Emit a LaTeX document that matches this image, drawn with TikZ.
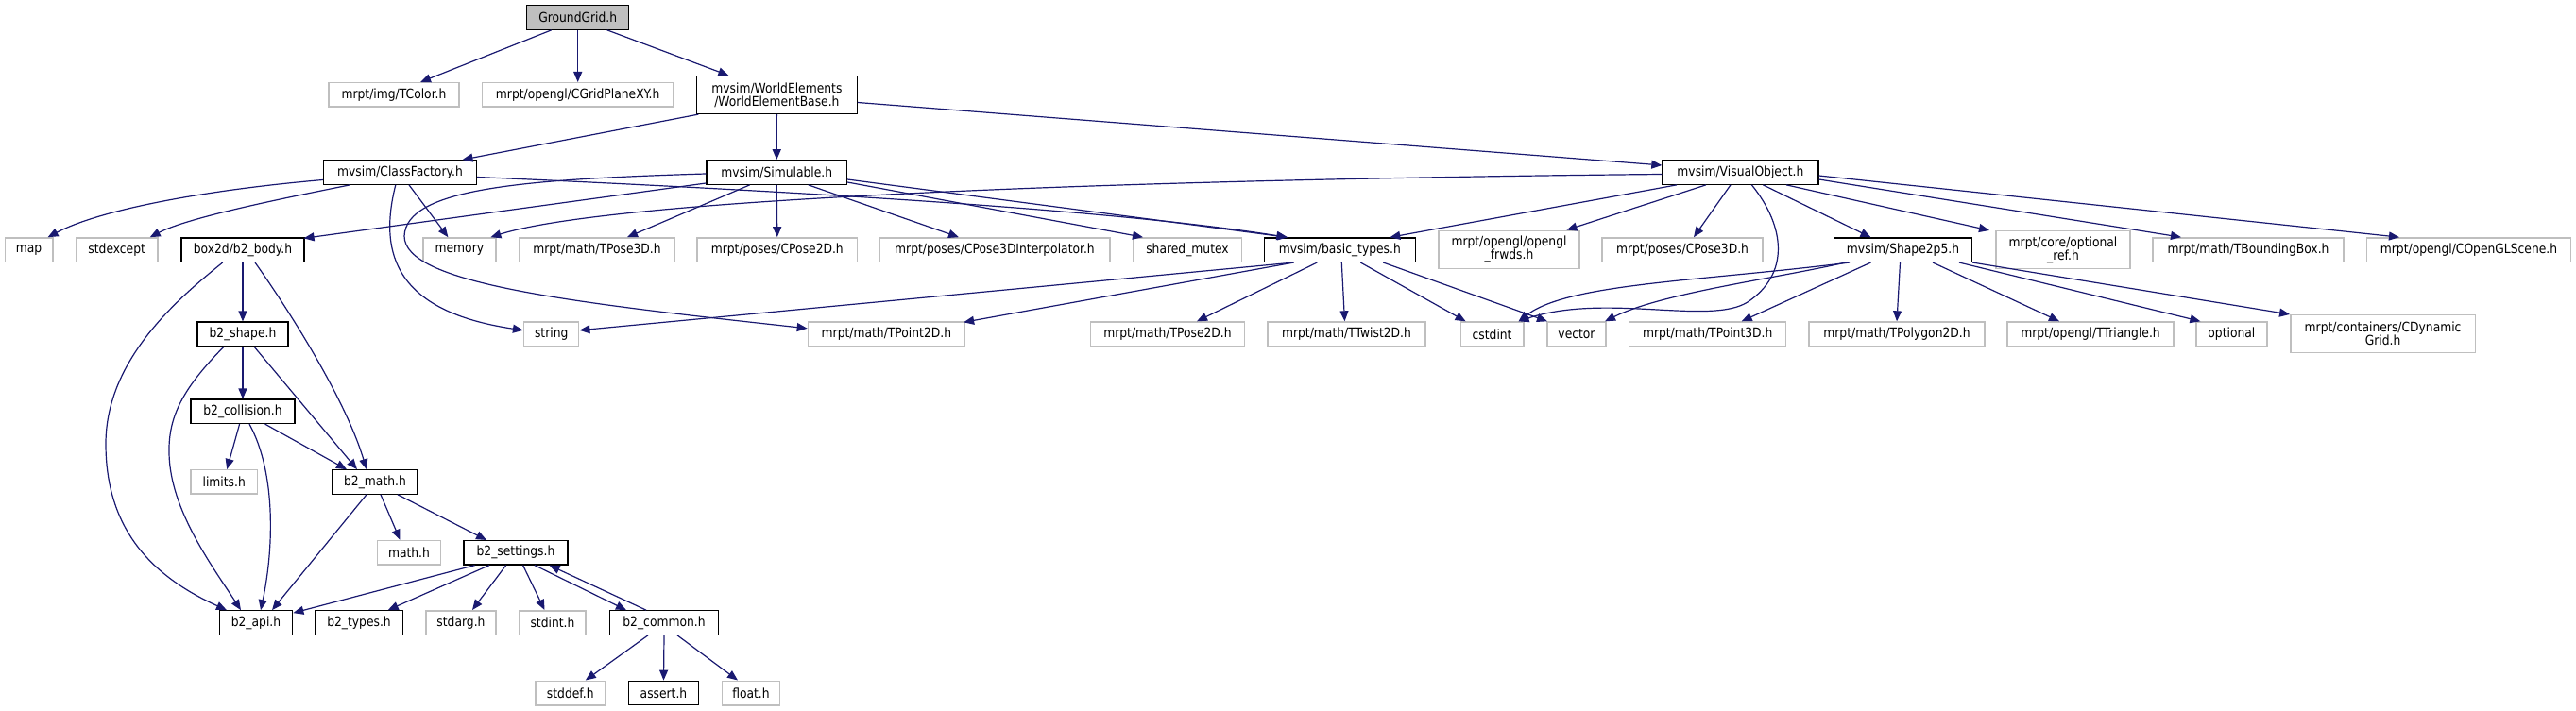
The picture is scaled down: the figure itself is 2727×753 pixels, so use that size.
\documentclass[tikz,border=0pt]{standalone}
\usepackage{fontspec}
\newfontfamily\nf{DejaVu Sans}[FakeStretch=0.88]
\usetikzlibrary{arrows.meta,calc}
\definecolor{edgec}{HTML}{191970}
\definecolor{greyb}{HTML}{BFBFBF}
\begin{document}
\begin{tikzpicture}[x=0.5pt,y=-0.5pt,
 every node/.style={inner sep=0pt, font=\nf\fontsize{7}{7}\selectfont, align=center, minimum height=12.75pt},
 bk/.style={draw=black, line width=0.6pt, fill=white},
 gr/.style={draw=greyb, line width=0.75pt, fill=white},
 tall/.style={minimum height=20pt},
 edg/.style={draw=edgec, line width=0.6pt, -{Triangle[length=5.5pt,width=4.5pt]}},
]
\useasboundingbox (0,0) rectangle (2727,753);
% row 0
\node[bk, fill=greyb, minimum width=54pt] (gg) at (611.7,18.5) {GroundGrid.h};
% row 1
\node[gr, minimum width=69pt] (tcolor) at (417,100.5) {mrpt/img/TColor.h};
\node[gr, minimum width=101.3pt] (cgrid) at (611.7,100.5) {mrpt/opengl/CGridPlaneXY.h};
\node[bk, tall, minimum width=84.8pt] (web) at (822.4,100.5) {mvsim/WorldElements\\/WorldElementBase.h};
% row 2
\node[bk, minimum width=81pt] (cf) at (423.5,182.5) {mvsim/ClassFactory.h};
\node[bk, minimum width=74.3pt] (sim) at (822.2,182.5) {mvsim/Simulable.h};
\node[bk, minimum width=82.5pt] (vo) at (1842.4,182.5) {mvsim/VisualObject.h};
% row 3
\node[gr, minimum width=25.2pt] (map) at (30.6,264.7) {map};
\node[gr, minimum width=43.3pt] (stdexcept) at (123.7,264.7) {stdexcept};
\node[bk, minimum width=65pt] (b2body) at (257,264.7) {box2d/b2\_body.h};
\node[gr, minimum width=38.5pt] (memory) at (486.4,264.7) {memory};
\node[gr, minimum width=82pt] (tpose3d) at (632,264.7) {mrpt/math/TPose3D.h};
\node[gr, minimum width=84.8pt] (cpose2d) at (822.8,264.7) {mrpt/poses/CPose2D.h};
\node[gr, minimum width=121.8pt] (cpose3di) at (1053,264.7) {mrpt/poses/CPose3DInterpolator.h};
\node[gr, minimum width=57.3pt] (smutex) at (1257,264.7) {shared\_mutex};
\node[bk, minimum width=80pt] (btypes) at (1418.3,264.7) {mvsim/basic\_types.h};
\node[gr, tall, minimum width=74.7pt] (frwds) at (1597.5,264.3) {mrpt/opengl/opengl\\\_frwds.h};
\node[gr, minimum width=85.2pt] (cpose3d) at (1781,264.7) {mrpt/poses/CPose3D.h};
\node[bk, minimum width=73pt] (shape) at (2014.5,264.7) {mvsim/Shape2p5.h};
\node[gr, tall, minimum width=71pt] (optref) at (2184,264.7) {mrpt/core/optional\\\_ref.h};
\node[gr, minimum width=101pt] (tbbox) at (2380,264.7) {mrpt/math/TBoundingBox.h};
\node[gr, minimum width=108pt] (scene) at (2613.5,264.7) {mrpt/opengl/COpenGLScene.h};
% row 4
\node[bk, minimum width=48pt] (b2shape) at (257,353.8) {b2\_shape.h};
\node[gr, minimum width=29pt] (string) at (583.7,353.8) {string};
\node[gr, minimum width=83pt] (tpoint2d) at (938.4,353.8) {mrpt/math/TPoint2D.h};
\node[gr, minimum width=81.5pt] (tpose2d) at (1236,353.8) {mrpt/math/TPose2D.h};
\node[gr, minimum width=83.7pt] (ttwist) at (1425.5,353.8) {mrpt/math/TTwist2D.h};
\node[gr, minimum width=33.2pt] (cstdint) at (1579.6,353.8) {cstdint};
\node[gr, minimum width=31pt] (vector) at (1669,353.8) {vector};
\node[gr, minimum width=83pt] (tpoint3d) at (1807.7,353.8) {mrpt/math/TPoint3D.h};
\node[gr, minimum width=92.9pt] (tpoly) at (2008,353.8) {mrpt/math/TPolygon2D.h};
\node[gr, minimum width=88pt] (ttri) at (2213,353.8) {mrpt/opengl/TTriangle.h};
\node[gr, minimum width=37.4pt] (optional) at (2362.4,353.8) {optional};
\node[gr, tall, minimum width=97.8pt] (cdyn) at (2522.6,353.7) {mrpt/containers/CDynamic\\Grid.h};
% box2d rows
\node[bk, minimum width=55pt] (b2coll) at (257,435.8) {b2\_collision.h};
\node[gr, minimum width=35.2pt] (limits) at (237.2,510.5) {limits.h};
\node[bk, minimum width=45pt] (b2math) at (397,510.5) {b2\_math.h};
\node[gr, minimum width=33.5pt] (mathh) at (433,585.3) {math.h};
\node[bk, minimum width=55pt] (b2set) at (546,585.3) {b2\_settings.h};
\node[bk, minimum width=38.8pt] (b2api) at (271,659.5) {b2\_api.h};
\node[bk, minimum width=46.5pt] (b2types) at (380,659.5) {b2\_types.h};
\node[gr, minimum width=37.2pt] (stdarg) at (488,659.5) {stdarg.h};
\node[gr, minimum width=35.2pt] (stdint) at (585,659.5) {stdint.h};
\node[bk, minimum width=57.5pt] (b2common) at (703,659.5) {b2\_common.h};
\node[gr, minimum width=37pt] (stddef) at (603.8,734) {stddef.h};
\node[bk, minimum width=37.2pt] (assert) at (702.5,734) {assert.h};
\node[gr, minimum width=30.5pt] (float) at (795,734) {float.h};

% edges from GroundGrid
\draw[edg] ($(gg.south)+(-28,0)$) -- ($(tcolor.north)+(28,0)$);
\draw[edg] (gg.south) -- (cgrid.north);
\draw[edg] ($(gg.south)+(31,0)$) -- ($(web.north)+(-51,0)$);
% WorldElementBase
\draw[edg] ($(web.south)+(-83,0)$) -- ($(cf.north)+(66,0)$);
\draw[edg] (web.south) -- (sim.north);
\draw[edg] ($(web.east)+(0,8)$) -- ($(vo.west)+(0,-7.5)$);
% ClassFactory
\draw[edg] ($(cf.west)+(0,8)$) .. controls (230,200) and (110,220) .. ($(map.north)+(20,0)$);
\draw[edg] ($(cf.south)+(-53,0)$) .. controls (300,210) and (200,230) .. ($(stdexcept.north)+(35,0)$);
\draw[edg] ($(cf.south)+(9.5,0)$) -- ($(memory.north)+(-12,0)$);
\draw[edg] ($(cf.south)+(-4.7,0)$) .. controls (400,270) and (420,330) .. ($(string.west)+(0,-4)$);
\draw[edg] ($(cf.east)+(0,5)$) .. controls (900,205) and (1200,225) .. ($(btypes.north)+(-56,0)$);
% Simulable
\draw[edg] ($(sim.west)+(0,11.5)$) -- ($(b2body.north east)+(-1,1)$);
\draw[edg] ($(sim.south)+(-28.5,0)$) -- ($(tpose3d.north)+(32,0)$);
\draw[edg] (sim.south) -- (cpose2d.north);
\draw[edg] ($(sim.south)+(33.5,0)$) -- ($(cpose3di.north)+(-38,0)$);
\draw[edg] ($(sim.east)+(0,10.5)$) -- ($(smutex.north)+(-47,0)$);
\draw[edg] ($(sim.east)+(0,7.5)$) -- ($(btypes.north)+(-55,0)$);
\draw[edg] ($(sim.west)+(0,1.5)$) .. controls (550,190) and (430,200) .. (428,250) .. controls (428,300) and (600,320) .. ($(tpoint2d.west)+(0,-6)$);
% VisualObject
\draw[edg] ($(vo.west)+(0,2)$) .. controls (1200,190) and (650,210) .. ($(memory.north)+(33,0)$);
\draw[edg] ($(vo.south)+(-67.4,0)$) -- ($(btypes.north)+(53,0)$);
\draw[edg] ($(vo.south)+(-36.4,0)$) -- ($(frwds.north)+(61,0)$);
\draw[edg] ($(vo.south)+(-10.4,0)$) -- ($(cpose3d.north)+(12,0)$);
\draw[edg] ($(vo.south)+(12,0)$) .. controls (1890,240) and (1895,290) .. (1850,320) .. controls (1810,345) and (1700,310) .. ($(cstdint.north east)+(-6,0)$);
\draw[edg] ($(vo.south)+(24,0)$) -- ($(shape.north)+(-34,0)$);
\draw[edg] ($(vo.south)+(48.6,0)$) -- ($(optref.north)+(-78,0)$);
\draw[edg] ($(vo.east)+(0,7.5)$) -- ($(tbbox.north)+(-71,0)$);
\draw[edg] ($(vo.east)+(0,3.5)$) -- ($(scene.north)+(-73.5,0)$);
% basic_types
\draw[edg] ($(btypes.south)+(-48.7,0)$) -- ($(string.east)+(0,-4)$);
\draw[edg] ($(btypes.south)+(-48.7,0)$) -- ($(tpoint2d.north east)+(-2,1)$);
\draw[edg] ($(btypes.south)+(-24,0)$) -- ($(tpose2d.north)+(31,0)$);
\draw[edg] ($(btypes.south)+(2,0)$) -- ($(ttwist.north)+(-2,0)$);
\draw[edg] ($(btypes.south)+(22,0)$) -- ($(cstdint.north)+(-28,0)$);
\draw[edg] ($(btypes.south)+(46,0)$) -- ($(vector.north)+(-31,0)$);
% Shape2p5
\draw[edg] ($(shape.south)+(-56.5,0)$) .. controls (1800,298) and (1660,300) .. ($(cstdint.north east)+(-6,0)$);
\draw[edg] ($(shape.south)+(-61,0)$) .. controls (1880,295) and (1760,310) .. ($(vector.north)+(30,0)$);
\draw[edg] ($(shape.south)+(-34,0)$) -- ($(tpoint3d.north)+(36,0)$);
\draw[edg] ($(shape.south)+(-3,0)$) -- (tpoly.north);
\draw[edg] ($(shape.south)+(31.5,0)$) -- ($(ttri.north)+(-33,0)$);
\draw[edg] ($(shape.south)+(59.5,0)$) -- ($(optional.north)+(-33,0)$);
\draw[edg] (shape.south east) -- (cdyn.north west);
% box2d
\draw[edg] (b2body.south) -- (b2shape.north);
\draw[edg] ($(b2body.south)+(-21.3,0)$) .. controls (190,315) and (112,380) .. (112,470) .. controls (112,560) and (160,610) .. ($(b2api.north)+(-31,0)$);
\draw[edg] ($(b2body.south)+(13,0)$) .. controls (300,320) and (365,420) .. ($(b2math.north)+(-9,0)$);
\draw[edg] (b2shape.south) -- (b2coll.north);
\draw[edg] ($(b2shape.south)+(-20,0)$) .. controls (195,410) and (178,440) .. (179,480) .. controls (180,540) and (225,600) .. ($(b2api.north)+(-16,0)$);
\draw[edg] ($(b2shape.south)+(12,0)$) -- ($(b2math.north)+(-19,0)$);
\draw[edg] ($(b2coll.south)+(-3.4,0)$) -- ($(limits.north)+(3,0)$);
\draw[edg] ($(b2coll.south)+(7,0)$) .. controls (292,500) and (290,580) .. ($(b2api.north)+(5,0)$);
\draw[edg] ($(b2coll.south)+(23.6,0)$) -- ($(b2math.north)+(-30,0)$);
\draw[edg] ($(b2math.south)+(-9,0)$) -- ($(b2api.north)+(17,0)$);
\draw[edg] ($(b2math.south)+(6,0)$) -- ($(mathh.north)+(-9.5,0)$);
\draw[edg] ($(b2math.south)+(24,0)$) -- ($(b2set.north)+(-31,0)$);
\draw[edg] ($(b2set.south)+(-43.4,0)$) -- ($(b2api.north east)+(0,3)$);
\draw[edg] ($(b2set.south)+(-28,0)$) -- ($(b2types.north)+(30.7,0)$);
\draw[edg] ($(b2set.south)+(-10.3,0)$) -- ($(stdarg.north)+(12,0)$);
\draw[edg] ($(b2set.south)+(7.6,0)$) -- ($(stdint.north)+(-8.5,0)$);
\draw[edg] ($(b2set.south)+(20,0)$) -- ($(b2common.north)+(-40,0)$);
\draw[edg] ($(b2common.north)+(-19,0)$) -- ($(b2set.south)+(35.6,0)$);
\draw[edg] ($(b2common.south)+(-17,0)$) -- ($(stddef.north)+(16,0)$);
\draw[edg] (b2common.south) -- (assert.north);
\draw[edg] ($(b2common.south)+(14,0)$) -- ($(float.north)+(-14,0)$);
\end{tikzpicture}
\end{document}
